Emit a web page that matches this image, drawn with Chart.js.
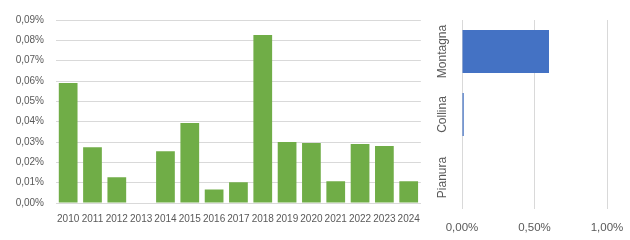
<!DOCTYPE html>
<html>
<head>
<meta charset="utf-8">
<script src="https://cdn.jsdelivr.net/npm/chart.js@4/dist/chart.umd.min.js"></script>
<style>
  html, body { margin: 0; padding: 0; background: #ffffff; }
  #wrap { position: relative; width: 630px; height: 240px; overflow: hidden; }
  #c1 { position: absolute; left: 0; top: 0; }
  #c2 { position: absolute; left: 430px; top: 0; }
</style>
</head>
<body>
<div id="wrap">
  <canvas id="c1" width="430" height="240"></canvas>
  <canvas id="c2" width="200" height="240"></canvas>
</div>
<script>
// Left chart: yearly values (percent units)
const years = ['2010','2011','2012','2013','2014','2015','2016','2017','2018','2019','2020','2021','2022','2023','2024'];
const yearValues = [0.059, 0.0274, 0.0127, 0, 0.0255, 0.0393, 0.0067, 0.0102, 0.0826, 0.0300, 0.0295, 0.0107, 0.0290, 0.0280, 0.0107];
const yearTickMax = 0.09;
const yearTickStep = 0.01;

// Right chart: by altitude zone (percent units)
const zones = ['Montagna', 'Collina', 'Pianura'];
const zoneValues = [0.60, 0.012, 0];
const zoneTickMax = 1.0;
const zoneTickStep = 0.5;

const textColor = '#595959';
const gridColor = '#d9d9d9';
const fmt = v => Number(v).toFixed(2).replace('.', ',') + '%';

Chart.defaults.font.family = '"Liberation Sans", Arial, sans-serif';
Chart.defaults.color = textColor;
Chart.defaults.animation = false;

new Chart(document.getElementById('c1'), {
  type: 'bar',
  data: {
    labels: years,
    datasets: [{ data: yearValues, backgroundColor: '#70ad47', barPercentage: 0.77, categoryPercentage: 1.0 }]
  },
  options: {
    responsive: false,
    maintainAspectRatio: false,
    layout: { padding: { top: 20, right: 5, left: 0, bottom: 0 } },
    plugins: { legend: { display: false }, tooltip: { enabled: false } },
    scales: {
      x: {
        grid: { display: false, drawTicks: false },
        border: { display: true, color: gridColor },
        ticks: { font: { size: 10 }, color: textColor, padding: 10, maxRotation: 0, minRotation: 0, autoSkip: false },
        afterFit: s => { s.height = 37; }
      },
      y: {
        min: 0, max: yearTickMax,
        grid: { color: gridColor, drawTicks: false },
        border: { display: false },
        ticks: { stepSize: yearTickStep, font: { size: 10 }, color: textColor, padding: 12, callback: v => fmt(v) },
        afterFit: s => { s.width = 56; }
      }
    }
  }
});

new Chart(document.getElementById('c2'), {
  type: 'bar',
  data: {
    labels: zones,
    datasets: [{ data: zoneValues, backgroundColor: '#4472c4', barPercentage: 0.68, categoryPercentage: 1.0 }]
  },
  options: {
    indexAxis: 'y',
    responsive: false,
    maintainAspectRatio: false,
    layout: { padding: { top: 20, right: 23, left: 0, bottom: 0 } },
    plugins: { legend: { display: false }, tooltip: { enabled: false } },
    scales: {
      x: {
        min: 0, max: zoneTickMax,
        grid: { color: gridColor, drawTicks: false },
        border: { display: false },
        ticks: { stepSize: zoneTickStep, font: { size: 11.5 }, color: textColor, padding: 12, maxRotation: 0, callback: v => fmt(v) },
        afterFit: s => { s.height = 31; s.paddingLeft = 0; s.paddingRight = 0; }
      },
      y: {
        grid: { display: false, drawTicks: false },
        border: { display: false },
        ticks: { font: { size: 12 }, color: textColor, minRotation: 90, maxRotation: 90, crossAlign: 'center', padding: -7, autoSkip: false },
        afterFit: s => { s.width = 32; s.paddingTop = 0; s.paddingBottom = 0; }
      }
    }
  }
});
</script>
</body>
</html>
